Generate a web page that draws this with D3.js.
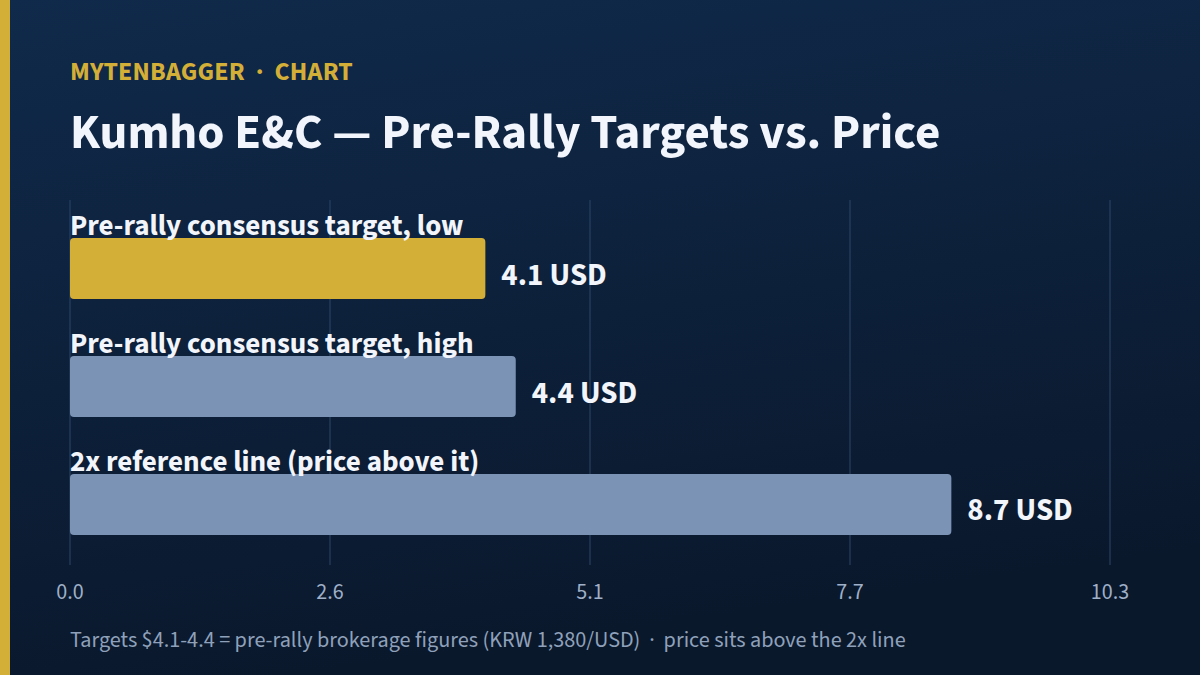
<!DOCTYPE html>
<html>
<head>
<meta charset="utf-8">
<script src="https://cdn.jsdelivr.net/npm/d3@7"></script>
<style>
html,body{margin:0;padding:0;background:#0c1c33;}
svg{display:block;}
text{font-family:"Source Sans Pro","Source Sans 3",Lato,"Noto Sans",sans-serif;white-space:pre;}
</style>
</head>
<body>
<svg id="chart" width="1200" height="675"></svg>
<script>
const kicker = "MYTENBAGGER  ·  CHART";
const title = "Kumho E&C — Pre-Rally Targets vs. Price";
const footnote = "Targets $4.1-4.4 = pre-rally brokerage figures (KRW 1,380/USD)  ·  price sits above the 2x line";
const categories = ["Pre-rally consensus target, low", "Pre-rally consensus target, high", "2x reference line (price above it)"];
const values = [4.1, 4.4, 8.7];
const unit = "USD";
const axisMax = 10.266;
const tickValues = [0, 2.5665, 5.133, 7.6995, 10.266];
const tickLabels = ["0.0", "2.6", "5.1", "7.7", "10.3"];
const barColors = ["#d4af37", "#7b93b5", "#7b93b5"];

const W = 1200, H = 675;
const svg = d3.select("#chart");
const defs = svg.append("defs");
const g = defs.append("linearGradient").attr("id","bg").attr("x1",0).attr("y1",0).attr("x2",0.25).attr("y2",1);
g.append("stop").attr("offset","0%").attr("stop-color","#102a4b");
g.append("stop").attr("offset","100%").attr("stop-color","#0a182c");
svg.append("rect").attr("width",W).attr("height",H).attr("fill","url(#bg)");
svg.append("rect").attr("width",10).attr("height",H).attr("fill","#d4af37");

const x = d3.scaleLinear().domain([0, axisMax]).range([70, 1110]);
const y = d3.scaleBand().domain(categories).range([238, 535]).paddingInner(0.483).paddingOuter(0);

// grid
svg.append("g").selectAll("line").data(tickValues).join("line")
  .attr("x1", d => x(d)).attr("x2", d => x(d))
  .attr("y1", 200).attr("y2", 565)
  .attr("stroke", "#2d4669").attr("stroke-width", 1);

// tick labels
svg.append("g").selectAll("text").data(tickValues).join("text")
  .attr("x", d => x(d)).attr("y", 599)
  .attr("text-anchor","middle")
  .attr("fill","#9fb0c8").attr("font-size",22)
  .text((d,i) => tickLabels[i]);

// header
svg.append("text").attr("x",70).attr("y",80).attr("fill","#d4af37")
  .attr("font-size",26).attr("font-weight",700).attr("letter-spacing",0.2).text(kicker);
svg.append("text").attr("x",70).attr("y",148).attr("fill","#f2f5fb")
  .attr("font-size",49).attr("font-weight",700).text(title);

// bars
const rows = categories.map((c,i) => ({c, v: values[i], col: barColors[i]}));
const row = svg.append("g").selectAll("g").data(rows).join("g");
row.append("rect")
  .attr("x", x(0)).attr("y", d => y(d.c))
  .attr("width", d => x(d.v) - x(0)).attr("height", y.bandwidth())
  .attr("rx",4).attr("fill", d => d.col);
row.append("text")
  .attr("x", x(0)).attr("y", d => y(d.c) - 3)
  .attr("fill","#f2f5fb").attr("font-size",29).attr("font-weight",700)
  .text(d => d.c);
row.append("text")
  .attr("x", d => x(d.v) + 16).attr("y", d => y(d.c) + y.bandwidth()/2 + 16)
  .attr("fill","#f2f5fb").attr("font-size",31).attr("font-weight",700)
  .text(d => d.v.toFixed(1) + " " + unit);

svg.append("text").attr("x",70).attr("y",647).attr("fill","#8fa1ba")
  .attr("font-size",22.2).text(footnote);
</script>
</body>
</html>
